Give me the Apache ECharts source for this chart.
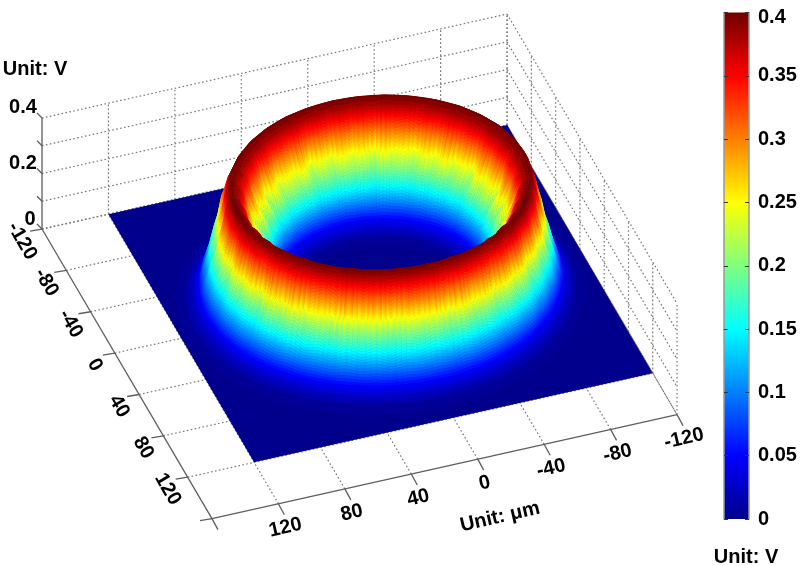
<!DOCTYPE html>
<html><head><meta charset="utf-8">
<style>html,body{margin:0;padding:0;background:#fff}#c{width:800px;height:566px}</style>
<script src="https://cdn.jsdelivr.net/npm/echarts@6/dist/echarts.min.js"></script>
</head><body><div id="c"></div>
<script>
// ---- values ----
const planeTicks = [-120, -80, -40, 0, 40, 80, 120];
const zGridTicks = [0, 0.1, 0.2, 0.3, 0.4];
const zLabelTicks = [0, 0.2, 0.4];
const colorbarTicks = [0, 0.05, 0.1, 0.15, 0.2, 0.25, 0.3, 0.35, 0.4];
// radial profile of the ring (um -> V)
const profileRadius = [0, 45, 49, 52, 55, 57, 59, 62, 64.5, 67.5, 70.5, 72.5, 75, 78, 79, 80, 82, 84, 86, 87.5, 89.5, 92, 94, 96, 99, 103, 108];
const profileHeight = [0, 0, 0.01, 0.025, 0.05, 0.1, 0.15, 0.2, 0.225, 0.25, 0.3, 0.35, 0.38, 0.398, 0.4, 0.395, 0.36, 0.3, 0.25, 0.21, 0.175, 0.12, 0.085, 0.05, 0.025, 0.01, 0];
// small streaks round the wall (V), one value every 5 degrees
const wallStreaks = [0.4,-0.7,0.9,-0.3,0.6,-1,0.7,-0.5,1,-0.6,0.2,-0.8,0.9,-0.4,0.7,-0.9,0.5,-0.2,0.8,-0.7,1,-0.5,0.3,-0.9,0.6,-0.4,0.9,-0.8,0.5,-0.6,1,-0.3,0.7,-1,0.4,-0.5,0.8,-0.7,0.6,-0.2,0.9,-0.9,0.3,-0.6,1,-0.5,0.7,-0.8,0.2,-0.4,0.9,-1,0.6,-0.3,0.8,-0.7,0.5,-0.9,1,-0.2,0.4,-0.6,0.8,-0.8,0.7,-0.4,0.9,-0.5,0.3,-1,0.6,-0.3];
const jetStops = [[0,'#00008c'],[0.05,'#0000ff'],[0.15,'#00ffff'],[0.25,'#ffff00'],[0.35,'#ff0000'],[0.4,'#700000']];

// ---- view of the box ----
const boxMin = -120, boxMax = 160, surfaceHalf = 120, zTop = 0.4;
const view = {u0:380.6, v0:293.7, ux:-1.661, uy:0.607, vx:0.3714, vy:1.034, vz:277.5};
const ringStretchX = 1.08, streakGain = 0.045;
const project = (x,y,z) => [view.u0+view.ux*x+view.uy*y, view.v0+view.vx*x+view.vy*y-view.vz*z];

const rgb = jetStops.map(s=>[s[0],parseInt(s[1].slice(1,3),16),parseInt(s[1].slice(3,5),16),parseInt(s[1].slice(5,7),16)]);
function jet(z){
  z=Math.max(0,Math.min(0.4,z));
  for(let i=1;i<rgb.length;i++){ if(z<=rgb[i][0]){
    const a=rgb[i-1],b=rgb[i],t=(z-a[0])/(b[0]-a[0]);
    return 'rgb('+[1,2,3].map(k=>Math.round(a[k]+(b[k]-a[k])*t)).join(',')+')';
  }}
  return jetStops[jetStops.length-1][1];
}
function streakAt(t){
  const n=wallStreaks.length, i=Math.floor(t)%n, f=t-Math.floor(t);
  return wallStreaks[i]*(1-f)+wallStreaks[(i+1)%n]*f;
}
function surf(r,t){
  let z=0;
  for(let i=1;i<profileRadius.length;i++){ if(r<=profileRadius[i]){
    const f=(r-profileRadius[i-1])/(profileRadius[i]-profileRadius[i-1]);
    z=profileHeight[i-1]+(profileHeight[i]-profileHeight[i-1])*f; break;
  }}
  const w=z<0.26?z*z/0.0676:(0.4-z)/0.14;
  const a=t/wallStreaks.length*2*Math.PI;
  return {x:r*Math.cos(a)*ringStretchX, y:r*Math.sin(a), z:z+streakAt(t)*streakGain*w};
}
// ---- mesh cells ----
const angSub=3, firstR=1, lastR=profileRadius.length-1;
const rSteps=[];
for(let i=firstR;i<lastR;i++){
  const k=Math.max(1,Math.ceil(Math.abs(profileHeight[i+1]-profileHeight[i])/0.01));
  for(let s=0;s<k;s++) rSteps.push(profileRadius[i]+(profileRadius[i+1]-profileRadius[i])*s/k);
}
rSteps.push(profileRadius[lastR]);
const cells=[];
for(let a=0;a<wallStreaks.length*angSub;a++){
  const t0=a/angSub,t1=(a+1)/angSub;
  for(let j=0;j<rSteps.length-1;j++){
    const p=[surf(rSteps[j],t0),surf(rSteps[j+1],t0),surf(rSteps[j+1],t1),surf(rSteps[j],t1)];
    const zm=(p[0].z+p[1].z+p[2].z+p[3].z)/4;
    const g=p.reduce((s,q)=>s+view.vx*q.x+view.vy*q.y,0)/4;
    cells.push({pts:p.map(q=>project(q.x,q.y,q.z)),zm,g});
  }
}
cells.sort((a,b)=>a.g-b.g);

// ---- lines of the box ----
const H=boxMax, L=boxMin;
const dotted=[];
planeTicks.forEach(x=>{ dotted.push([[x,H,0],[x,L,0]]); dotted.push([[x,L,0],[x,L,zTop]]); });
planeTicks.forEach(y=>{ dotted.push([[H,y,0],[L,y,0]]); dotted.push([[L,y,0],[L,y,zTop]]); });
dotted.push([[L,H,0],[L,H,zTop]]);
zGridTicks.forEach(z=>{ dotted.push([[H,L,z],[L,L,z]]); dotted.push([[L,L,z],[L,H,z]]); });
const solid=[[project(H,L,0),project(H,H,0)],[project(H,H,0),project(L,H,0)],[project(H,L,0),project(H,L,zTop)]];
const tickOffY=[-12,2], tickOffX=[6,11], tickOffZ=[-5,-5];
const addTick=(p,o)=>solid.push([p,[p[0]+o[0],p[1]+o[1]]]);
planeTicks.forEach(t=>{ addTick(project(H,t,0),tickOffY); addTick(project(t,H,0),tickOffX); });
addTick(project(H,H,0),tickOffY); addTick(project(H,H,0),tickOffX);
zGridTicks.forEach(z=>addTick(project(H,L,z),tickOffZ));

// ---- text ----
const font='bold 20px "Liberation Sans", Arial, sans-serif';
const texts=[];
planeTicks.forEach(t=>{ const p=project(H,t,0); texts.push({s:String(t),u:p[0]-20,v:p[1]+12,rot:-60}); });
planeTicks.forEach(t=>{ const p=project(t,H,0); texts.push({s:String(t),u:p[0]+7,v:p[1]+24,rot:13}); });
zLabelTicks.forEach(z=>{ const p=project(H,L,z); texts.push({s:String(z),u:p[0]-(z?19:12),v:p[1]-(z?10.5:10),rot:0}); });
texts.push({s:'Unit: V',u:35,v:69,rot:0});
texts.push({s:'Unit: \u03bcm',u:500,v:517,rot:13});
texts.push({s:'Unit: V',u:746,v:557,rot:0});

const chart=echarts.init(document.getElementById('c'),null,{renderer:'canvas'});
const pl=(api,p)=>api.coord(p);
const idx=a=>a.map((_,i)=>[i]);
const common={type:'custom',coordinateSystem:'cartesian2d',xAxisIndex:0,yAxisIndex:0,clip:false,silent:true,animation:false,progressive:0,encode:{x:-1,y:-1}};
chart.setOption({
  animation:false,backgroundColor:'#fff',
  grid:[{left:0,top:0,width:800,height:566,show:false},{left:724,top:12.6,width:25,height:506.4,show:false}],
  xAxis:[{type:'value',min:0,max:800,show:false},{type:'category',gridIndex:1,data:['V'],show:false}],
  yAxis:[{type:'value',min:0,max:566,inverse:true,show:false},
    {type:'value',gridIndex:1,min:0,max:0.4,interval:0.05,position:'right',z:5,
     axisLine:{show:true,lineStyle:{color:'#999',width:1.5}},splitLine:{show:false},
     axisTick:{show:true,inside:true,length:4,lineStyle:{color:'#333',width:1}},
     axisLabel:{show:true,margin:9,color:'#000',fontFamily:'"Liberation Sans", Arial, sans-serif',fontWeight:'bold',fontSize:20,
       customValues:colorbarTicks,
       formatter:v=>v>=0.399?'{t|'+v+'}':String(+v.toFixed(2)),
       rich:{t:{padding:[9,0,0,0],fontWeight:'bold',fontSize:20,color:'#000',fontFamily:'"Liberation Sans", Arial, sans-serif'}}}},
    {type:'value',gridIndex:1,min:0,max:0.4,interval:0.05,position:'left',z:5,
     axisLine:{show:true,lineStyle:{color:'#999',width:1.5}},splitLine:{show:false},
     axisTick:{show:true,inside:true,length:4,lineStyle:{color:'#333',width:1}},axisLabel:{show:false}}],
  series:[
    Object.assign({},common,{z:1,data:idx(dotted),renderItem:(par,api)=>{
      const d=dotted[api.value(0)],a=pl(api,project(...d[0])),b=pl(api,project(...d[1]));
      return {type:'line',shape:{x1:a[0],y1:a[1],x2:b[0],y2:b[1]},style:{stroke:'#777',lineWidth:1.2,lineDash:[1.6,2.4]}};
    }}),
    Object.assign({},common,{z:2,data:[[0]],renderItem:(par,api)=>{
      const s=surfaceHalf,c=[[s,-s],[s,s],[-s,s],[-s,-s]].map(q=>pl(api,project(q[0],q[1],0)));
      return {type:'polygon',shape:{points:c},style:{fill:jet(0)}};
    }}),
    Object.assign({},common,{z:3,data:idx(cells),progressiveThreshold:1e7,renderItem:(par,api)=>{
      const c=cells[api.value(0)],col=jet(c.zm);
      return {type:'polygon',shape:{points:c.pts.map(p=>pl(api,p))},style:{fill:col,stroke:col,lineWidth:0.6}};
    }}),
    Object.assign({},common,{z:4,data:idx(solid),renderItem:(par,api)=>{
      const d=solid[api.value(0)],a=pl(api,d[0]),b=pl(api,d[1]);
      return {type:'line',shape:{x1:a[0],y1:a[1],x2:b[0],y2:b[1]},style:{stroke:'#5e5e5e',lineWidth:1.3}};
    }}),
    Object.assign({},common,{z:5,data:idx(texts),renderItem:(par,api)=>{
      const t=texts[api.value(0)],p=pl(api,[t.u,t.v]);
      return {type:'text',x:p[0],y:p[1],rotation:t.rot*Math.PI/180,
        style:{text:t.s,font:font,fill:'#000',align:'center',verticalAlign:'middle'}};
    }}),
    {type:'bar',xAxisIndex:1,yAxisIndex:1,data:[colorbarTicks[colorbarTicks.length-1]],barWidth:'100%',silent:true,animation:false,z:2,
     itemStyle:{color:new echarts.graphic.LinearGradient(0,1,0,0,jetStops.map(s=>({offset:s[0]/zTop,color:s[1]})))}}
  ]
});
</script></body></html>
